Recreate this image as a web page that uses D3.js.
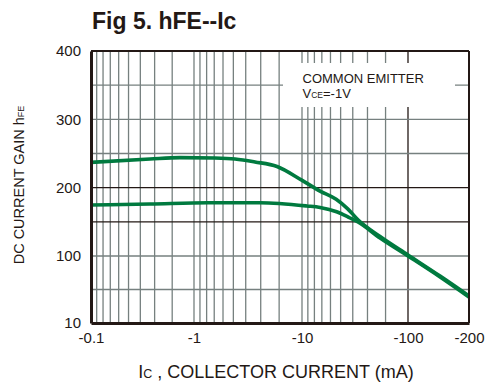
<!DOCTYPE html>
<html>
<head>
<meta charset="utf-8">
<script src="https://cdn.jsdelivr.net/npm/d3@7"></script>
<style>
  html, body { margin: 0; padding: 0; background: #fff; }
  svg { display: block; }
  text { font-family: "Liberation Sans", Arial, sans-serif; fill: #231815; }
</style>
</head>
<body>
<svg id="chart" width="485" height="383"></svg>
<script>
// ---- data (collector current in mA, magnitude; hFE) ----
const upperCurrent = [0.1, 0.374, 0.73, 1.56, 2.4, 3.67, 5.87, 9.94, 14.8, 21, 27, 33.7, 54.5, 100, 144, 200];
const upperHFE     = [237, 242, 244, 243.4, 242, 237.6, 231, 211, 195, 183, 169, 153, 128.5, 101.5, 73, 46.3];
const lowerCurrent = [0.1, 0.374, 1.35, 4.08, 11.1, 14.8, 21.2, 28.4, 33.7, 54.5, 100, 144, 200];
const lowerHFE     = [174.6, 176.1, 178, 178, 173.2, 171, 164.8, 155.6, 149.8, 126.3, 100, 71.8, 44.9];

const xTickValues = [0.1, 1, 10, 100, 200];
const xTickLabels = ["-0.1", "-1", "-10", "-100", "-200"];
const yTickValues = [10, 100, 200, 300, 400];
const yTickLabels = ["10", "100", "200", "300", "400"];
const yGridValues = [55, 100, 150, 200, 250, 300, 350];
const yGridDark   = [150, 200];
const xDecades    = [0.1, 1, 10, 100];
const xGridDark   = [100];

const title = "Fig 5. hFE--Ic";
const legendLine1 = "COMMON EMITTER";

// ---- layout ----
const L = 91, R = 469, T = 51, B = 323;
const svg = d3.select("#chart");
const ink = "#231815", gridGrey = "#76807f", green = "#007a3f";

const x = d3.scaleLog().domain([0.1, 1, 10, 100, 200]).range([L, 194, 302, 408, R]);
const y = d3.scaleLinear().domain([10, 100, 400]).range([B, 256, T]);

// minor gridline fractions within a decade (mirrored, widening to the right)
const frac = j => 0.3 * (j / 9) + 0.7 * (Math.pow(1.3, j) - 1) / (Math.pow(1.3, 9) - 1);

const grid = svg.append("g");
const vLines = [];
for (let d = 0; d < xDecades.length - 1; d++) {
  const a = x(xDecades[d]), b = x(xDecades[d + 1]);
  for (let j = 1; j <= 8; j++) vLines.push({ px: a + (b - a) * frac(j), dark: false });
  vLines.push({ px: b, dark: xGridDark.includes(xDecades[d + 1]) });
}
grid.selectAll("line.v").data(vLines).join("line")
  .attr("x1", d => d.px).attr("x2", d => d.px)
  .attr("y1", T).attr("y2", B)
  .attr("stroke", d => d.dark ? ink : gridGrey)
  .attr("stroke-width", 1.3);
grid.selectAll("line.h").data(yGridValues).join("line")
  .attr("x1", L).attr("x2", R)
  .attr("y1", d => y(d)).attr("y2", d => y(d))
  .attr("stroke", d => yGridDark.includes(d) ? ink : gridGrey)
  .attr("stroke-width", 1.3);

// legend box (white background covering the grid)
svg.append("rect").attr("x", 283).attr("y", 63).attr("width", 172).attr("height", 44).attr("fill", "#fff");
svg.append("text").attr("x", 302.5).attr("y", 82.5).attr("font-size", 13).text(legendLine1);
const vce = svg.append("text").attr("x", 302.5).attr("y", 97.5).attr("font-size", 13);
vce.append("tspan").text("V");
vce.append("tspan").attr("font-size", 8.5).text("CE");
vce.append("tspan").text("=-1V");

// curves
const line = d3.line().x(d => x(d[0])).y(d => y(d[1])).curve(d3.curveMonotoneX);
const series = [
  d3.zip(lowerCurrent, lowerHFE),
  d3.zip(upperCurrent, upperHFE)
];
svg.append("g").selectAll("path").data(series).join("path")
  .attr("d", line)
  .attr("fill", "none")
  .attr("stroke", green)
  .attr("stroke-width", 3.6)
  .attr("stroke-linejoin", "round");

// frame
svg.append("line").attr("x1", L).attr("x2", R).attr("y1", T).attr("y2", T).attr("stroke", ink).attr("stroke-width", 2);
svg.append("line").attr("x1", R).attr("x2", R).attr("y1", T).attr("y2", B).attr("stroke", ink).attr("stroke-width", 2);

// axes
const yAxis = d3.axisLeft(y).tickValues(yTickValues).tickSize(0).tickPadding(10)
  .tickFormat((d, i) => yTickLabels[i]);
const gy = svg.append("g").attr("transform", `translate(${L},0)`).call(yAxis);
gy.select(".domain").attr("stroke", ink).attr("stroke-width", 3);
gy.selectAll("text").attr("font-size", 15).attr("fill", ink)
  .attr("font-family", '"Liberation Sans", Arial, sans-serif');

const xAxis = d3.axisBottom(x).tickValues(xTickValues).tickSize(0).tickPadding(9)
  .tickFormat((d, i) => xTickLabels[i]);
const gx = svg.append("g").attr("transform", `translate(0,${B})`).call(xAxis);
gx.select(".domain").attr("stroke", ink).attr("stroke-width", 3);
gx.selectAll("text").attr("font-size", 15).attr("fill", ink)
  .attr("font-family", '"Liberation Sans", Arial, sans-serif');

// title
svg.append("text").attr("x", 92).attr("y", 29).attr("font-size", 23).attr("font-weight", "bold").text(title);

// x axis title
const xt = svg.append("text").attr("x", 276).attr("y", 378).attr("text-anchor", "middle").attr("font-size", 18);
xt.append("tspan").text("I");
xt.append("tspan").attr("font-size", 12.5).text("C");
xt.append("tspan").text(" , COLLECTOR CURRENT (mA)");

// y axis title
const yt = svg.append("text").attr("transform", "translate(24,185) rotate(-90)")
  .attr("text-anchor", "middle").attr("font-size", 14.5);
yt.append("tspan").text("DC CURRENT GAIN h");
yt.append("tspan").attr("font-size", 9).text("FE");
</script>
</body>
</html>
